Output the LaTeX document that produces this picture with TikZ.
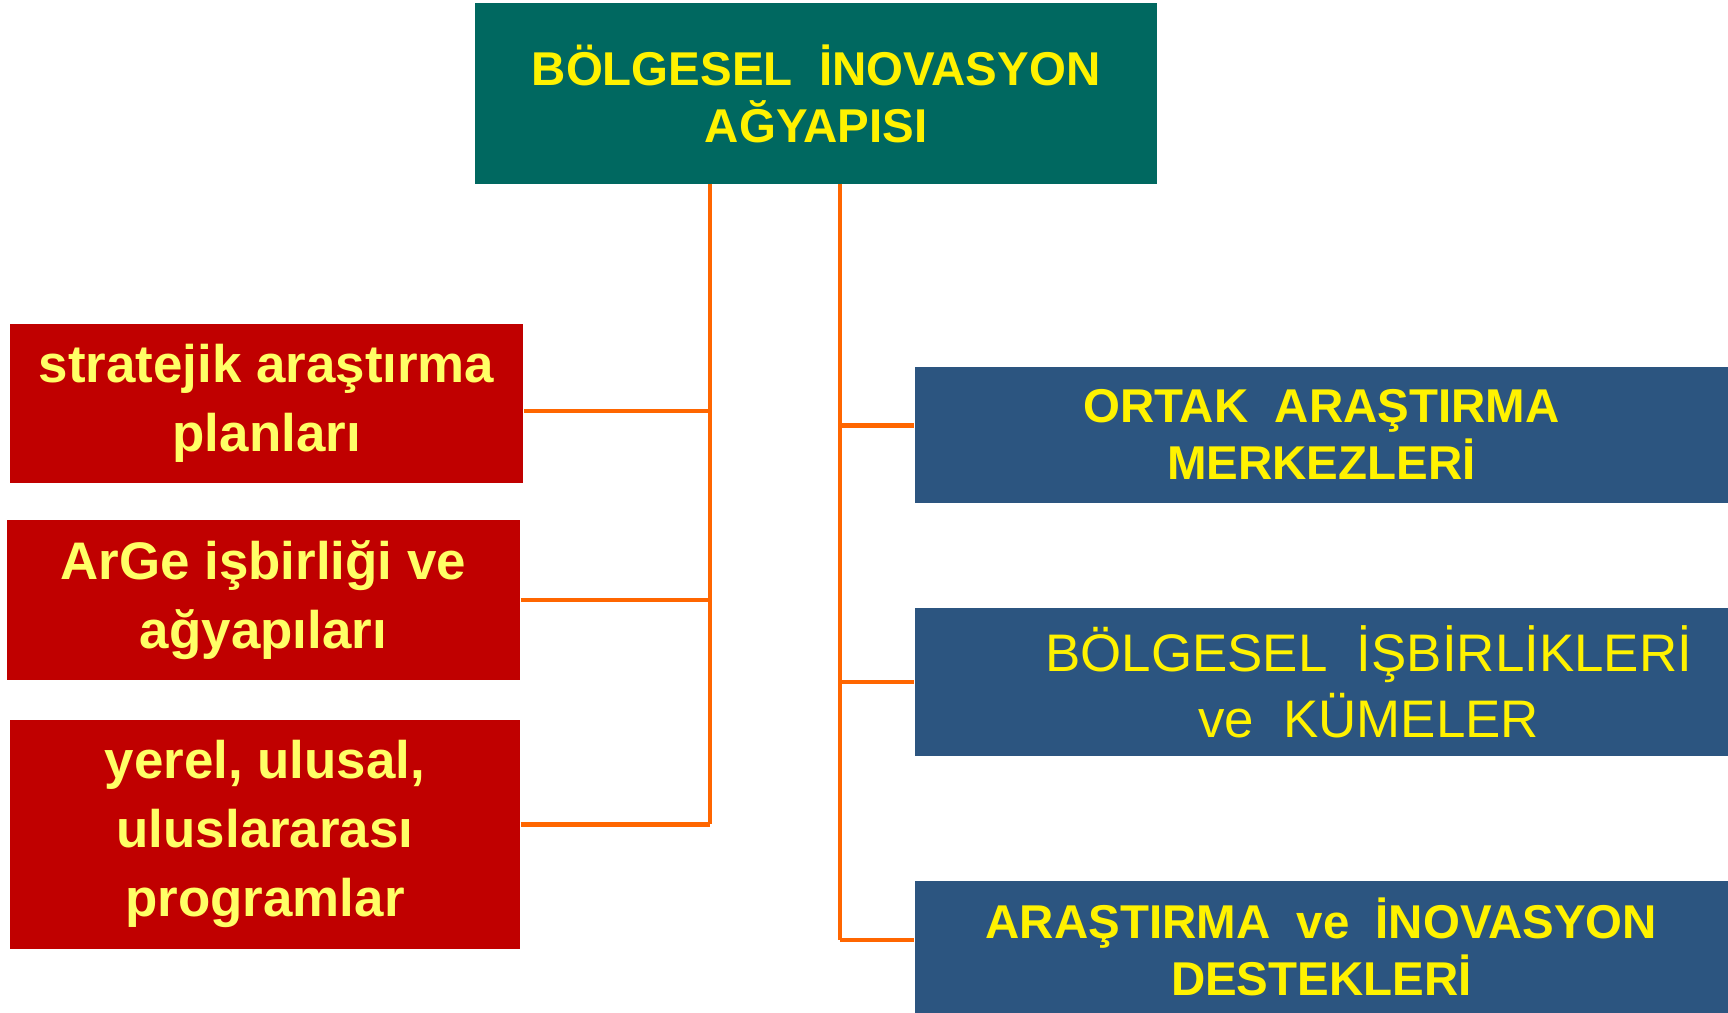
\documentclass[tikz,border=0pt]{standalone}
\usepackage{fontspec}
\setmainfont{Liberation Sans}
\definecolor{tealbox}{RGB}{0,104,96}
\definecolor{redbox}{RGB}{192,0,0}
\definecolor{bluebox}{RGB}{44,85,128}
\definecolor{lnorange}{RGB}{255,102,0}
\definecolor{paleyellow}{RGB}{255,255,102}
\begin{document}
\begin{tikzpicture}
[x=0.2mm,y=-0.2mm,
 ln/.style={draw=lnorange,line width=0.8mm},
 kutu/.style={rectangle,inner sep=0pt,align=center},
 ana/.style={kutu,fill=tealbox,text=yellow,font=\fontsize{24.5}{29.5}\selectfont\bfseries},
 sol/.style={kutu,fill=redbox,text=paleyellow,font=\fontsize{27.3}{35.7}\selectfont\bfseries},
 sag/.style={kutu,fill=bluebox,text=yellow,font=\fontsize{24.5}{29.5}\selectfont\bfseries}]
\useasboundingbox (0,0) rectangle (1568,919);

\node [ana,minimum width=123.8mm,minimum height=32.8mm] at (740.5,85) (top)
  {BÖLGESEL\ \ İNOVASYON\\AĞYAPISI};

\node [sol,minimum width=93.2mm,minimum height=28.8mm] at (242,366) (s1)
  {stratejik araştırma\\planları};
\node [sol,minimum width=93.2mm,minimum height=29mm] at (239,544.5) (s2)
  {ArGe işbirliği ve\\ağyapıları};
\node [sol,minimum width=92.6mm,minimum height=41.6mm] at (240.5,757) (s3)
  {yerel, ulusal,\\uluslararası\\programlar};

\node [sag,minimum width=147.6mm,minimum height=24.6mm] at (1199,394.5) (r1)
  {ORTAK\ \ ARAŞTIRMA\\MERKEZLERİ};
\node [sag,minimum width=147.6mm,minimum height=26.8mm,
       font=\fontsize{27.3}{34}\selectfont] at (1199,619) (r2)
  {\hspace*{17.2mm}BÖLGESEL\ \ İŞBİRLİKLERİ\\\hspace*{17.2mm}ve\ \ KÜMELER};
\node [sag,minimum width=147.6mm,minimum height=24mm] at (1199,859) (r3)
  {ARAŞTIRMA\ \ ve\ \ İNOVASYON\\DESTEKLERİ};

\coordinate (l) at (644,0);
\coordinate (r) at (762,0);

\draw [ln] (top.south -| l) -- ([yshift=1.8mm]s3.east -| l);
\draw [ln] ([yshift=-1.4mm]s1.east) -- ([yshift=-1.4mm]s1.east -| l);
\draw [ln] (s2.east) -- (s2.east -| l);
\draw [ln] ([yshift=1.8mm]s3.east) -- ([yshift=1.8mm]s3.east -| l);

\draw [ln] (top.south -| r) -- ([yshift=1.2mm]r3.west -| r);
\draw [ln] ([yshift=1.7mm]r1.west -| r) -- ([yshift=1.7mm]r1.west);
\draw [ln] (r2.west -| r) -- (r2.west);
\draw [ln] ([yshift=1.2mm]r3.west -| r) -- ([yshift=1.2mm]r3.west);
\end{tikzpicture}
\end{document}
